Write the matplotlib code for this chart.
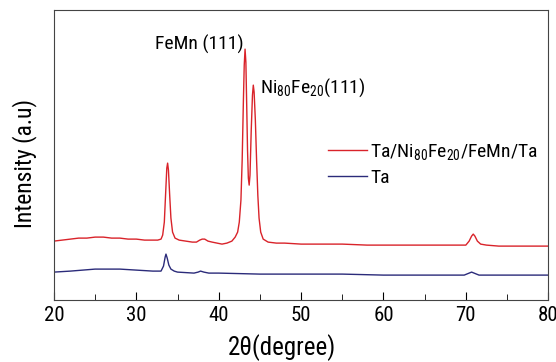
import matplotlib
matplotlib.use("Agg")
import matplotlib.pyplot as plt
from matplotlib import font_manager
from matplotlib.ticker import MultipleLocator

# pick a narrow sans face if one is installed
candidates = ['Roboto Condensed', 'Archivo Narrow', 'PT Sans Narrow', 'Liberation Sans Narrow',
              'Open Sans Condensed', 'Fira Sans Condensed', 'IBM Plex Sans Condensed',
              'Asap Condensed', 'Encode Sans Condensed', 'Barlow Semi Condensed',
              'Pragati Narrow', 'Roboto', 'DejaVu Sans']
installed = {f.name for f in font_manager.fontManager.ttflist}
fam = next(c for c in candidates if c in installed)

plt.rcParams['font.family'] = [fam, 'DejaVu Sans']
plt.rcParams['mathtext.fontset'] = 'custom'
plt.rcParams['mathtext.rm'] = fam
plt.rcParams['mathtext.default'] = 'rm'

# XRD pattern (2theta in degrees, intensity in arbitrary units)
red_x = [20, 21, 22, 23, 24, 25, 26, 27, 28, 29, 30, 31, 32, 32.6, 33.0, 33.2, 33.4, 33.55,
         33.7, 33.8, 33.9, 34.05, 34.2, 34.4, 34.7, 35.2, 36, 36.8, 37.3, 37.7, 38.0, 38.3,
         38.7, 39.2, 39.8, 40.4, 41.0, 41.6, 42.0, 42.3, 42.5, 42.7, 42.85, 43.0, 43.1, 43.2,
         43.3, 43.4, 43.5, 43.6, 43.7, 43.8, 43.95, 44.1, 44.2, 44.3, 44.45, 44.6, 44.75,
         44.9, 45.1, 45.4, 46, 47, 48, 50, 52, 55, 58, 60, 63, 65, 67, 69, 70.0, 70.4, 70.7,
         70.9, 71.1, 71.4, 71.8, 72.5, 74, 76, 78, 80]
red_y = [59, 60, 61, 62, 62, 63, 63, 62, 62, 61, 61, 60, 60, 60, 61, 65, 78, 105,
         132, 137, 130, 105, 82, 68, 62, 60, 59, 58, 58, 60, 61, 61,
         59, 58, 57, 56, 57, 59, 63, 68, 78, 100, 140, 200, 235, 251,
         238, 195, 150, 122, 115, 125, 170, 205, 215, 208, 180, 140, 105,
         82, 68, 61, 58, 57, 57, 56, 56, 56, 55, 55, 55, 55, 55, 55, 55, 59, 64,
         66, 64, 59, 56, 55, 54, 54, 54, 54]

blue_x = [20, 22, 25, 28, 30, 32, 33.0, 33.3, 33.5, 33.6, 33.75, 33.95, 34.2, 34.6, 35,
          37, 37.5, 37.8, 38.2, 38.8, 40, 45, 50, 55, 60, 65, 69.8, 70.4, 70.7, 71.0,
          71.6, 75, 80]
blue_y = [28, 29, 31, 31, 30, 29, 29, 34, 43, 46, 42, 35, 31, 29, 28,
          27, 28, 29, 28, 27, 27, 26, 26, 26, 25, 25, 25, 27, 28, 27,
          25, 25, 25]

fig = plt.figure(figsize=(5.56, 3.62), dpi=100)
ax = fig.add_axes([0.097, 0.171, 0.889, 0.801])

ax.plot(red_x, red_y, color='#d9232a', lw=1.0, label='Ta/Ni$_{80}$Fe$_{20}$/FeMn/Ta')
ax.plot(blue_x, blue_y, color='#2b2b7a', lw=1.0, label='Ta')

ax.set_xlim(20, 80)
ax.set_ylim(0, 290)
ax.xaxis.set_major_locator(MultipleLocator(10))
ax.xaxis.set_minor_locator(MultipleLocator(5))
ax.tick_params(axis='x', which='both', direction='in', labelsize=15, pad=4)
ax.tick_params(axis='x', which='major', length=6)
ax.tick_params(axis='x', which='minor', length=4)
ax.set_yticks([])
for s in ax.spines.values():
    s.set_color('#444444')

ax.set_xlabel('2\u03b8(degree)', fontsize=18)
ax.set_ylabel('Intensity (a.u)', fontsize=17)
ax.xaxis.set_label_coords(0.462, -0.118)
ax.yaxis.set_label_coords(-0.035, 0.47)

ax.text(32.3, 256, 'FeMn (111)', fontsize=14, va='center', ha='left')
ax.text(45.0, 212, 'Ni$_{80}$Fe$_{20}$(111)', fontsize=14, va='center', ha='left')

ax.legend(loc='upper left', bbox_to_anchor=(0.52, 0.605), frameon=False, fontsize=14,
          handlelength=2.0, handletextpad=0.15, labelspacing=0.35)

fig.savefig('out.png', dpi=100)
